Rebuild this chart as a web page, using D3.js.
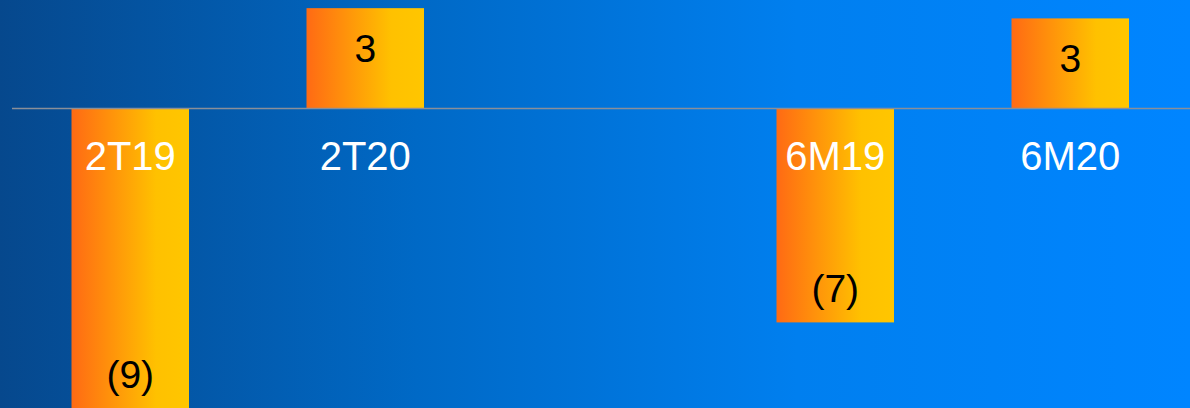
<!DOCTYPE html>
<html>
<head>
<meta charset="utf-8">
<script src="https://cdn.jsdelivr.net/npm/d3@7"></script>
<style>
	html, body { margin: 0; padding: 0; overflow: hidden; }
	svg { display: block; font-family: "Liberation Sans", Arial, sans-serif; }
</style>
</head>
<body>
<svg></svg>
<script>
// periods (the empty slot separates the quarter pair from the half-year pair)
const categories = ['2T19', '2T20', '', '6M19', '6M20'];
const values = [-9.4, 3.12, null, -6.7, 2.8];

const width = 1190;
const height = 408;

const svg = d3.select('svg')
	.attr('width', width)
	.attr('height', height)
	.attr('viewBox', [0, 0, width, height]);

const defs = svg.append('defs');

const bg = defs.append('linearGradient')
	.attr('id', 'bg')
	.attr('x1', 0).attr('x2', 1).attr('y1', 0).attr('y2', 0);
bg.append('stop').attr('offset', 0).attr('stop-color', '#06488d');
bg.append('stop').attr('offset', 0.35).attr('stop-color', '#0069c6');
bg.append('stop').attr('offset', 0.67).attr('stop-color', '#007fef');
bg.append('stop').attr('offset', 1).attr('stop-color', '#0085ff');

const barFill = defs.append('linearGradient')
	.attr('id', 'bar')
	.attr('x1', 0).attr('x2', 1).attr('y1', 0).attr('y2', 0);
barFill.append('stop').attr('offset', 0).attr('stop-color', '#ff6a14');
barFill.append('stop').attr('offset', 0.72).attr('stop-color', '#ffc100');
barFill.append('stop').attr('offset', 1).attr('stop-color', '#ffc600');

svg.append('rect')
	.attr('width', width)
	.attr('height', height)
	.attr('fill', 'url(#bg)');

const x = d3.scaleBand()
	.domain(categories)
	.range([12.75, 1187.75])
	.paddingInner(0.5)
	.paddingOuter(0.25);

const y = d3.scaleLinear()
	.domain([-9.375, 3.375])
	.range([height, 0]);

const data = categories
	.map((c, i) => ({ cat: c, value: values[i] }))
	.filter(d => d.value !== null);

const fmt = (v) => {
	const r = Math.round(Math.abs(v));
	return v < 0 ? '(' + r + ')' : String(r);
};

svg.append('g')
	.selectAll('rect')
	.data(data)
	.enter()
		.append('rect')
		.attr('x', d => x(d.cat))
		.attr('width', x.bandwidth())
		.attr('y', d => y(Math.max(0, d.value)))
		.attr('height', d => Math.abs(y(d.value) - y(0)))
		.attr('fill', 'url(#bar)');

const axis = svg.append('g')
	.attr('transform', 'translate(0,' + y(0) + ')')
	.call(
		d3.axisBottom(x)
			.tickSize(0)
			.tickPadding(34)
	);

axis.select('.domain')
	.attr('stroke', '#8a8f99')
	.attr('stroke-width', 1.5)
	.attr('d', 'M12,0.5H' + width);

axis.selectAll('.tick text')
	.attr('fill', '#ffffff')
	.attr('font-size', 40)
	.attr('font-family', '"Liberation Sans", Arial, sans-serif');

svg.append('g')
	.selectAll('text')
	.data(data)
	.enter()
		.append('text')
		.attr('x', d => x(d.cat) + x.bandwidth() / 2)
		.attr('y', d => d.value < 0 ? y(d.value) - 34 : y(d.value) + 40)
		.attr('dy', '0.35em')
		.attr('text-anchor', 'middle')
		.attr('font-size', 39)
		.attr('fill', '#000000')
		.text(d => fmt(d.value));
</script>
</body>
</html>
